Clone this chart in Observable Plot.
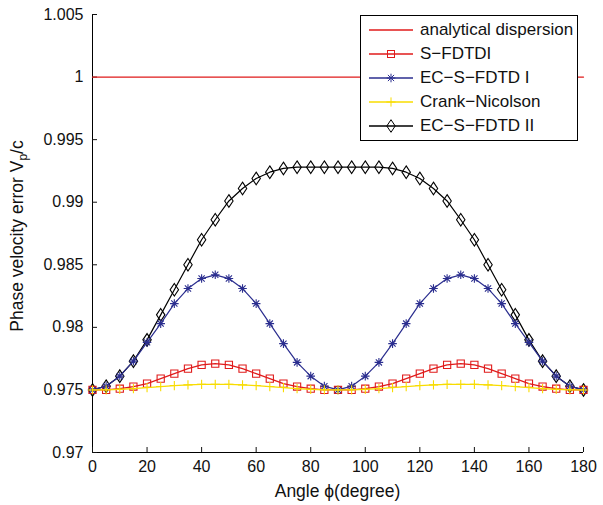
<!DOCTYPE html>
<html>
<head>
<meta charset="utf-8">
<script src="https://cdn.jsdelivr.net/npm/d3@7"></script>
<script src="https://cdn.jsdelivr.net/npm/@observablehq/plot@0.6"></script>
<style>
  html, body { margin: 0; padding: 0; background: #fff; }
  #wrap { position: relative; width: 603px; height: 505px; font-family: "Liberation Sans", Arial, Helvetica, sans-serif; }
  #legend { position: absolute; left: 360px; top: 15px; width: 216px; height: 124px; border: 1px solid #000; background: #fff; }
  #legend .row { position: absolute; left: 6px; height: 24px; display: flex; align-items: center; font-size: 17px; color: #111; white-space: nowrap; }
  #legend svg { display: block; margin-right: 5px; }
</style>
</head>
<body>
<div id="wrap"></div>
<script>
const angles = [0,5,10,15,20,25,30,35,40,45,50,55,60,65,70,75,80,85,90,95,100,105,110,115,120,125,130,135,140,145,150,155,160,165,170,175,180];
const analytical = [1,1];
const analyticalAngles = [0,180];
const sfdtdi = [0.9750,0.9750,0.9751,0.97527,0.9755,0.9759,0.9763,0.9767,0.9770,0.9771,0.9770,0.9767,0.9763,0.9759,0.9755,0.97527,0.9751,0.9750,0.9750,0.9750,0.9751,0.97527,0.9755,0.9759,0.9763,0.9767,0.9770,0.9771,0.9770,0.9767,0.9763,0.9759,0.9755,0.97527,0.9751,0.9750,0.9750];
const ecI = [0.9750,0.9753,0.9761,0.9773,0.9788,0.9803,0.9819,0.9831,0.9839,0.9842,0.9839,0.9831,0.9819,0.9803,0.9787,0.9772,0.9761,0.9753,0.9750,0.9753,0.9761,0.9772,0.9787,0.9803,0.9819,0.9831,0.9839,0.9842,0.9839,0.9831,0.9819,0.9803,0.9788,0.9773,0.9761,0.9753,0.9750];
const crank = [0.97500,0.97501,0.97505,0.97511,0.97519,0.97527,0.97535,0.97540,0.97544,0.97545,0.97544,0.97540,0.97535,0.97527,0.97519,0.97511,0.97505,0.97501,0.97500,0.97501,0.97505,0.97511,0.97519,0.97527,0.97535,0.97540,0.97544,0.97545,0.97544,0.97540,0.97535,0.97527,0.97519,0.97511,0.97505,0.97501,0.97500];
const ecII = [0.9750,0.9753,0.9761,0.9773,0.9790,0.9810,0.9830,0.9850,0.9870,0.9886,0.9901,0.9911,0.9919,0.9924,0.9927,0.9928,0.9928,0.9928,0.9928,0.9928,0.9928,0.9928,0.9927,0.9924,0.9919,0.9911,0.9901,0.9886,0.9870,0.9850,0.9830,0.9810,0.9790,0.9773,0.9761,0.9753,0.9750];
const xTicks = [0,20,40,60,80,100,120,140,160,180];
const yTicks = [0.97,0.975,0.98,0.985,0.99,0.995,1,1.005];
const seriesNames = ["analytical dispersion","S\u2212FDTDI","EC\u2212S\u2212FDTD I","Crank\u2212Nicolson","EC\u2212S\u2212FDTD II"];
const colors = { red: "#e01b1b", blue: "#2b2e8f", yellow: "#f8dc00", black: "#000000" };

const toRows = (vals) => angles.map((a, i) => ({a, v: vals[i]}));
const anaRows = analyticalAngles.map((a, i) => ({a, v: analytical[i]}));

function scaled(s) { return Math.sqrt(s / Math.PI); }
const symSquare = { draw(ctx, size) { const s = scaled(size); ctx.moveTo(-s,-s); ctx.lineTo(s,-s); ctx.lineTo(s,s); ctx.lineTo(-s,s); ctx.closePath(); } };
const symDiamond = { draw(ctx, size) { const s = scaled(size); ctx.moveTo(0,-1.5*s); ctx.lineTo(s,0); ctx.lineTo(0,1.5*s); ctx.lineTo(-s,0); ctx.closePath(); } };
const symStar = { draw(ctx, size) { const s = scaled(size); const d = s*0.72; ctx.moveTo(-s,0); ctx.lineTo(s,0); ctx.moveTo(0,-s); ctx.lineTo(0,s); ctx.moveTo(-d,-d); ctx.lineTo(d,d); ctx.moveTo(-d,d); ctx.lineTo(d,-d); } };
const symPlus = { draw(ctx, size) { const s = scaled(size); ctx.moveTo(-s,0); ctx.lineTo(s,0); ctx.moveTo(0,-s); ctx.lineTo(0,s); } };

const series = [
  {rows: toRows(ecII), color: colors.black, symbol: symDiamond, r: 4.2},
  {rows: toRows(sfdtdi), color: colors.red, symbol: symSquare, r: 3.6},
  {rows: toRows(ecI), color: colors.blue, symbol: symStar, r: 4.3},
  {rows: toRows(crank), color: colors.yellow, symbol: symPlus, r: 4.6}
];

const marks = [
  Plot.ruleX([0], {stroke: "#000"}),
  Plot.ruleY([0.97], {stroke: "#000"}),
  Plot.axisX({ticks: xTicks, tickSize: -5, tickPadding: 13, fontSize: 16, label: null}),
  Plot.axisY({ticks: yTicks, tickSize: -5, tickPadding: 14, fontSize: 16, label: null, tickFormat: d => String(Math.round(d * 1000) / 1000)}),
  Plot.line(anaRows, {x: "a", y: "v", stroke: colors.red, strokeWidth: 1.3})
];
for (const s of series) {
  marks.push(Plot.line(s.rows, {x: "a", y: "v", stroke: s.color, strokeWidth: 1.2}));
  marks.push(Plot.dot(s.rows, {x: "a", y: "v", stroke: s.color, fill: "none", symbol: s.symbol, r: s.r, strokeWidth: 1.1}));
}

const chart = Plot.plot({
  width: 603,
  height: 505,
  marginLeft: 92,
  marginRight: 20,
  marginTop: 14,
  marginBottom: 53,
  style: {fontFamily: "'Liberation Sans', Arial, Helvetica, sans-serif", fontSize: "16px", color: "#111", background: "#fff"},
  x: {domain: [0, 180]},
  y: {domain: [0.97, 1.005]},
  marks
});

// axis titles
const NS = "http://www.w3.org/2000/svg";
const xl = document.createElementNS(NS, "text");
xl.setAttribute("x", 337.5); xl.setAttribute("y", 497);
xl.setAttribute("text-anchor", "middle"); xl.setAttribute("font-size", "17.5"); xl.setAttribute("fill", "#111");
xl.textContent = "Angle \u03d5(degree)";
chart.appendChild(xl);
const yl = document.createElementNS(NS, "text");
yl.setAttribute("transform", "translate(23,236) rotate(-90)");
yl.setAttribute("text-anchor", "middle"); yl.setAttribute("font-size", "17.5"); yl.setAttribute("fill", "#111");
const t1 = document.createElementNS(NS, "tspan"); t1.textContent = "Phase velocity error V";
const t2 = document.createElementNS(NS, "tspan"); t2.textContent = "p"; t2.setAttribute("font-size", "12"); t2.setAttribute("dy", "4");
const t3 = document.createElementNS(NS, "tspan"); t3.textContent = "/c"; t3.setAttribute("dy", "-4");
yl.appendChild(t1); yl.appendChild(t2); yl.appendChild(t3);
chart.appendChild(yl);

const wrap = document.getElementById("wrap");
wrap.appendChild(chart);

// legend
const legendSpecs = [
  {color: colors.red, marker: ""},
  {color: colors.red, marker: '<rect x="20.5" y="8.5" width="7" height="7" fill="none" stroke="' + colors.red + '"/>'},
  {color: colors.blue, marker: '<path d="M19.7,12h8.6M24,7.7v8.6M20.9,8.9l6.2,6.2M20.9,15.1l6.2,-6.2" stroke="' + colors.blue + '" fill="none"/>'},
  {color: colors.yellow, marker: '<path d="M19.4,12h9.2M24,7.4v9.2" stroke="' + colors.yellow + '" fill="none"/>'},
  {color: colors.black, marker: '<path d="M24,5.7L28.2,12L24,18.3L19.8,12Z" stroke="#000" fill="none"/>'}
];
const legend = document.createElement("div");
legend.id = "legend";
legendSpecs.forEach((spec, i) => {
  const row = document.createElement("div");
  row.className = "row";
  row.style.top = (2 + i * 24) + "px";
  row.innerHTML = '<svg width="48" height="24"><line x1="2" x2="46" y1="12" y2="12" stroke="' + spec.color + '" stroke-width="1.3"/>' + spec.marker + '</svg><span>' + seriesNames[i] + '</span>';
  legend.appendChild(row);
});
wrap.appendChild(legend);
</script>
</body>
</html>
